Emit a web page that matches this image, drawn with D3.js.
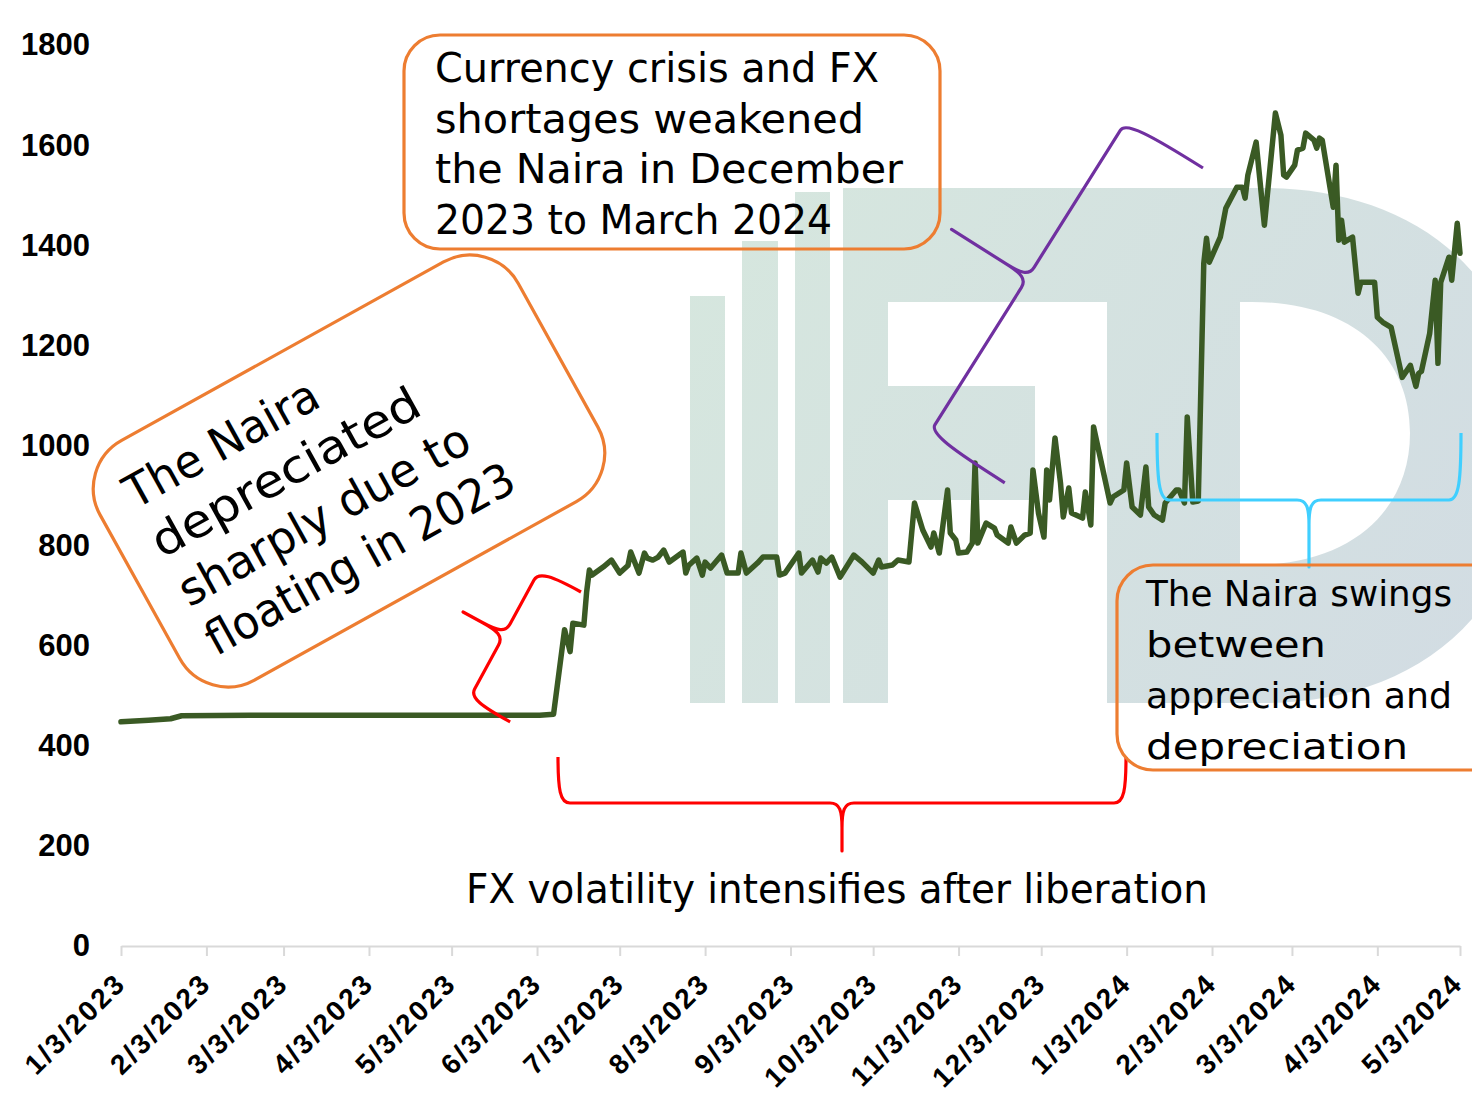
<!DOCTYPE html>
<html lang="en">
<head>
	<meta charset="utf-8">
	<title>Naira exchange rate 2023-2024</title>
	<script src="https://d3js.org/d3.v7.min.js"></script>
	<style type="text/css">
		body { margin: 0; background: #fff; }
		.axis text {
			font-family: "Liberation Sans", Arial, sans-serif;
			font-weight: bold;
			fill: #000;
		}
		.y.axis text { font-size: 31px; }
		.x.axis text { font-size: 28px; }
		.note {
			font-family: "Century Gothic", "DejaVu Sans", sans-serif;
			fill: #000;
		}
	</style>
</head>
<body>
<script type="text/javascript">

	// Exchange rate series (NGN per USD)
	var rateDates = [
		"2023-01-03","2023-01-13","2023-01-21","2023-01-25","2023-02-19","2023-03-27","2023-05-02","2023-06-04","2023-06-09",
		"2023-06-13","2023-06-15","2023-06-16","2023-06-20","2023-06-21","2023-06-22","2023-06-23","2023-06-27","2023-06-30",
		"2023-07-03","2023-07-06","2023-07-07","2023-07-10","2023-07-12","2023-07-13","2023-07-15","2023-07-17","2023-07-19",
		"2023-07-21","2023-07-26","2023-07-27","2023-07-28","2023-07-31","2023-08-02","2023-08-03","2023-08-05","2023-08-09",
		"2023-08-11","2023-08-15","2023-08-16","2023-08-18","2023-08-22","2023-08-24","2023-08-29","2023-08-30","2023-09-01",
		"2023-09-06","2023-09-07","2023-09-11","2023-09-13","2023-09-14","2023-09-16","2023-09-18","2023-09-21","2023-09-26",
		"2023-09-29","2023-10-03","2023-10-05","2023-10-06","2023-10-10","2023-10-12","2023-10-16","2023-10-18","2023-10-21",
		"2023-10-24","2023-10-25","2023-10-27","2023-10-30","2023-10-31","2023-11-02","2023-11-03","2023-11-06","2023-11-08",
		"2023-11-09","2023-11-10","2023-11-13","2023-11-16","2023-11-17","2023-11-21","2023-11-22","2023-11-24","2023-11-27",
		"2023-11-29","2023-11-30","2023-12-02","2023-12-04","2023-12-05","2023-12-06","2023-12-08","2023-12-10","2023-12-11",
		"2023-12-13","2023-12-14","2023-12-18","2023-12-19","2023-12-21","2023-12-22","2023-12-28","2023-12-29","2024-01-02",
		"2024-01-03","2024-01-05","2024-01-08","2024-01-10","2024-01-11","2024-01-13","2024-01-16","2024-01-17","2024-01-21",
		"2024-01-22","2024-01-24","2024-01-25","2024-01-27","2024-01-29","2024-01-31","2024-02-01","2024-02-02","2024-02-06",
		"2024-02-08","2024-02-12","2024-02-14","2024-02-15","2024-02-16","2024-02-19","2024-02-22","2024-02-26","2024-02-28",
		"2024-02-29","2024-03-01","2024-03-04","2024-03-05","2024-03-07","2024-03-08","2024-03-11","2024-03-12","2024-03-13",
		"2024-03-14","2024-03-18","2024-03-19","2024-03-20","2024-03-21","2024-03-22","2024-03-25","2024-03-27","2024-03-28",
		"2024-04-02","2024-04-03","2024-04-05","2024-04-08","2024-04-12","2024-04-15","2024-04-17","2024-04-18","2024-04-19",
		"2024-04-22","2024-04-24","2024-04-25","2024-04-26","2024-04-29","2024-04-30","2024-05-02","2024-05-03"
	];
	var rateValues = [
		448, 451, 454, 460, 461, 461, 461, 461, 463,
		632, 588, 645, 641, 707, 751, 741, 757, 771,
		745, 760, 787, 745, 785, 775, 771, 777, 791,
		767, 787, 745, 760, 775, 741, 767, 755, 781,
		745, 745, 785, 745, 765, 777, 777, 741, 745,
		785, 745, 771, 747, 775, 765, 777, 737, 781,
		767, 745, 771, 757, 761, 771, 767, 885, 831,
		797, 825, 785, 911, 825, 811, 785, 787, 805,
		965, 805, 845, 835, 821, 805, 837, 805, 821,
		825, 951, 865, 817, 951, 891, 1015, 925, 857,
		915, 865, 855, 907, 841, 1037, 885, 897, 911,
		965, 877, 861, 957, 877, 861, 851, 885, 911,
		911, 885, 1057, 887, 889, 1364, 1414, 1366, 1416,
		1474, 1516, 1516, 1494, 1540, 1606, 1440, 1664, 1620,
		1540, 1536, 1560, 1590, 1594, 1624, 1610, 1594, 1614,
		1610, 1476, 1560, 1410, 1450, 1406, 1416, 1304, 1326,
		1326, 1256, 1246, 1236, 1136, 1160, 1118, 1144, 1148,
		1224, 1330, 1164, 1326, 1376, 1330, 1444, 1384
	];

	// Axis ticks
	var yTicks = [0, 200, 400, 600, 800, 1000, 1200, 1400, 1600, 1800];
	var xTickLabels = ["1/3/2023","2/3/2023","3/3/2023","4/3/2023","5/3/2023","6/3/2023","7/3/2023","8/3/2023",
		"9/3/2023","10/3/2023","11/3/2023","12/3/2023","1/3/2024","2/3/2024","3/3/2024","4/3/2024","5/3/2024"];

	// Annotation texts
	var crisisLines = ["Currency crisis and FX", "shortages weakened", "the Naira in December", "2023 to March 2024"];
	var floatLines = ["The Naira", "depreciated", "sharply due to", "floating in 2023"];
	var swingLines = ["The Naira swings", "between", "appreciation and", "depreciation"];
	var volatilityNote = "FX volatility intensifies after liberation";

	// Sizes
	var outer_width = 1472;
	var outer_height = 1094;
	var margin = {top: 45, right: 12, bottom: 148, left: 121};

	var parseIso = d3.timeParse("%Y-%m-%d");
	var parseTick = d3.timeParse("%m/%d/%Y");
	var formatTick = d3.timeFormat("%-m/%-d/%Y");

	var data = rateDates.map(function(d, i) { return {date: parseIso(d), value: rateValues[i]}; });
	var tickDates = xTickLabels.map(parseTick);

	var svg = d3.select("body")
				.append("svg")
				.attr("width", outer_width)
				.attr("height", outer_height);

	//Create scale functions
	var xScale = d3.scaleTime()
					.domain([tickDates[0], tickDates[tickDates.length - 1]])
					.range([margin.left, 1460]);
	var yScale = d3.scaleLinear()
					.domain([0, 1800])
					.range([outer_height - margin.bottom, margin.top]);

	/******** WATERMARK ************/
	var defs = svg.append("defs");
	var grad = defs.append("linearGradient")
				.attr("id", "wm")
				.attr("gradientUnits", "userSpaceOnUse")
				.attr("x1", 690).attr("y1", 190).attr("x2", 1472).attr("y2", 700);
	grad.append("stop").attr("offset", 0).attr("stop-color", "#d6e7de");
	grad.append("stop").attr("offset", 1).attr("stop-color", "#d2dce3");

	var wm = svg.append("g").attr("fill", "url(#wm)");
	wm.append("rect").attr("x", 690).attr("y", 296).attr("width", 35).attr("height", 407);
	wm.append("rect").attr("x", 742).attr("y", 241).attr("width", 36).attr("height", 462);
	wm.append("rect").attr("x", 795).attr("y", 192).attr("width", 35).attr("height", 511);
	// F and D letters, even-odd so the counters stay white
	wm.append("path")
		.attr("fill-rule", "evenodd")
		.attr("d",
			"M843,188 L1263,188 C1400,188 1530,262 1530,445 C1530,628 1400,703 1263,703 L843,703 Z" +
			" M888,302 L1107,302 L1107,703 L888,703 L888,500 L1035,500 L1035,386 L888,386 Z" +
			" M1240,302 L1252,302 C1352,302 1410,356 1410,433 C1410,510 1352,565 1252,565 L1240,565 Z");

	/******** AXES ************/
	var xAxis = d3.axisBottom(xScale)
				.tickValues(tickDates)
				.tickFormat(formatTick)
				.tickSize(10)
				.tickSizeOuter(0)
				.tickPadding(0);

	var gx = svg.append("g")
		.attr("class", "x axis")
		.attr("transform", "translate(0," + yScale(0) + ")")
		.call(xAxis);
	gx.select(".domain").attr("stroke", "#d9d9d9").attr("stroke-width", 2);
	gx.selectAll(".tick line").attr("stroke", "#d9d9d9").attr("stroke-width", 2);
	// slanted labels, the end of each label sits just right of its tick
	gx.selectAll(".tick text")
		.attr("text-anchor", "end")
		.attr("letter-spacing", "2.5px")
		.attr("y", 0)
		.attr("dy", 0)
		.attr("transform", function(d) {
			var dx = Math.min(6, outer_width - 8 - xScale(d));
			return "translate(" + dx + ",39) rotate(-45)";
		});

	var yAxis = d3.axisLeft(yScale)
				.tickValues(yTicks)
				.tickFormat(d3.format("d"))
				.tickSize(0)
				.tickPadding(31);

	var gy = svg.append("g")
		.attr("class", "y axis")
		.attr("transform", "translate(" + margin.left + ",0)")
		.call(yAxis);
	gy.select(".domain").remove();

	/******** LINE ************/
	var line = d3.line()
				.x(function(d) { return xScale(d.date); })
				.y(function(d) { return yScale(d.value); });

	svg.append("path")
		.datum(data)
		.attr("d", line)
		.attr("fill", "none")
		.attr("stroke", "#3a5a24")
		.attr("stroke-width", 5.5)
		.attr("stroke-linejoin", "round")
		.attr("stroke-linecap", "round");

	/******** ANNOTATIONS ************/
	// curly brace in local coords: ends at (0,0) and (L,0), tip at (L/2, d1+d2)
	function bracePath(L, d1, d2) {
		var m = L / 2, s = 12;
		return "M0,0 C0," + (d1 * 0.7) + " 2," + d1 + " " + s + "," + d1 +
			" L" + (m - s) + "," + d1 +
			" C" + (m - 2) + "," + d1 + " " + m + "," + (d1 + 8) + " " + m + "," + (d1 + 25) +
			" L" + m + "," + (d1 + d2) +
			" L" + m + "," + (d1 + 25) +
			" C" + m + "," + (d1 + 8) + " " + (m + 2) + "," + d1 + " " + (m + s) + "," + d1 +
			" L" + (L - s) + "," + d1 +
			" C" + (L - 2) + "," + d1 + " " + L + "," + (d1 * 0.7) + " " + L + ",0";
	}

	function brace(tx, ty, angle, L, d1, d2, colour) {
		svg.append("path")
			.attr("transform", "translate(" + tx + "," + ty + ") rotate(" + angle + ")")
			.attr("d", bracePath(L, d1, d2))
			.attr("fill", "none")
			.attr("stroke", colour)
			.attr("stroke-width", 3.2)
			.attr("stroke-linejoin", "round");
	}

	brace(558, 757, 0, 568, 46, 48, "#ff0000");
	brace(581, 592, 118.6, 148, 47, 47, "#ff0000");
	brace(1203, 168, 122.2, 372, 90, 90, "#7030a0");
	brace(1157, 433, 0, 304, 67, 67, "#40cfff");

	function noteBox(g, x, y, w, h, r) {
		g.append("rect")
			.attr("x", x).attr("y", y)
			.attr("width", w).attr("height", h)
			.attr("rx", r).attr("ry", r)
			.attr("fill", "none")
			.attr("stroke", "#ed7d31")
			.attr("stroke-width", 3.2);
	}

	// widths keep the lines as long as the original face sets them
	function noteLines(g, lines, widths, x, y0, step, size) {
		g.selectAll(null)
			.data(lines)
			.enter()
			.append("text")
			.attr("class", "note")
			.attr("x", x)
			.attr("y", function(d, i) { return y0 + i * step; })
			.attr("textLength", function(d, i) { return widths[i]; })
			.attr("lengthAdjust", "spacingAndGlyphs")
			.style("font-size", size + "px")
			.text(function(d) { return d; });
	}

	// top box
	var g1 = svg.append("g");
	noteBox(g1, 404, 35, 536, 214, 36);
	noteLines(g1, crisisLines, [444, 429, 468, 397], 435, 82, 50.5, 40);

	// rotated box
	var g2 = svg.append("g").attr("transform", "translate(349,471) rotate(-29)");
	noteBox(g2, -239, -137, 478, 274, 55);
	noteLines(g2, floatLines, [215, 300, 326, 346], -206, -70, 56, 46);

	// right box, runs off the edge
	var g3 = svg.append("g");
	noteBox(g3, 1117, 565, 420, 205, 36);
	noteLines(g3, swingLines, [306, 180, 306, 262], 1146, 606, 51, 36);

	svg.append("text")
		.attr("class", "note")
		.attr("x", 466)
		.attr("y", 903)
		.attr("textLength", 742)
		.attr("lengthAdjust", "spacingAndGlyphs")
		.style("font-size", "40px")
		.text(volatilityNote);

</script>
</body>
</html>
